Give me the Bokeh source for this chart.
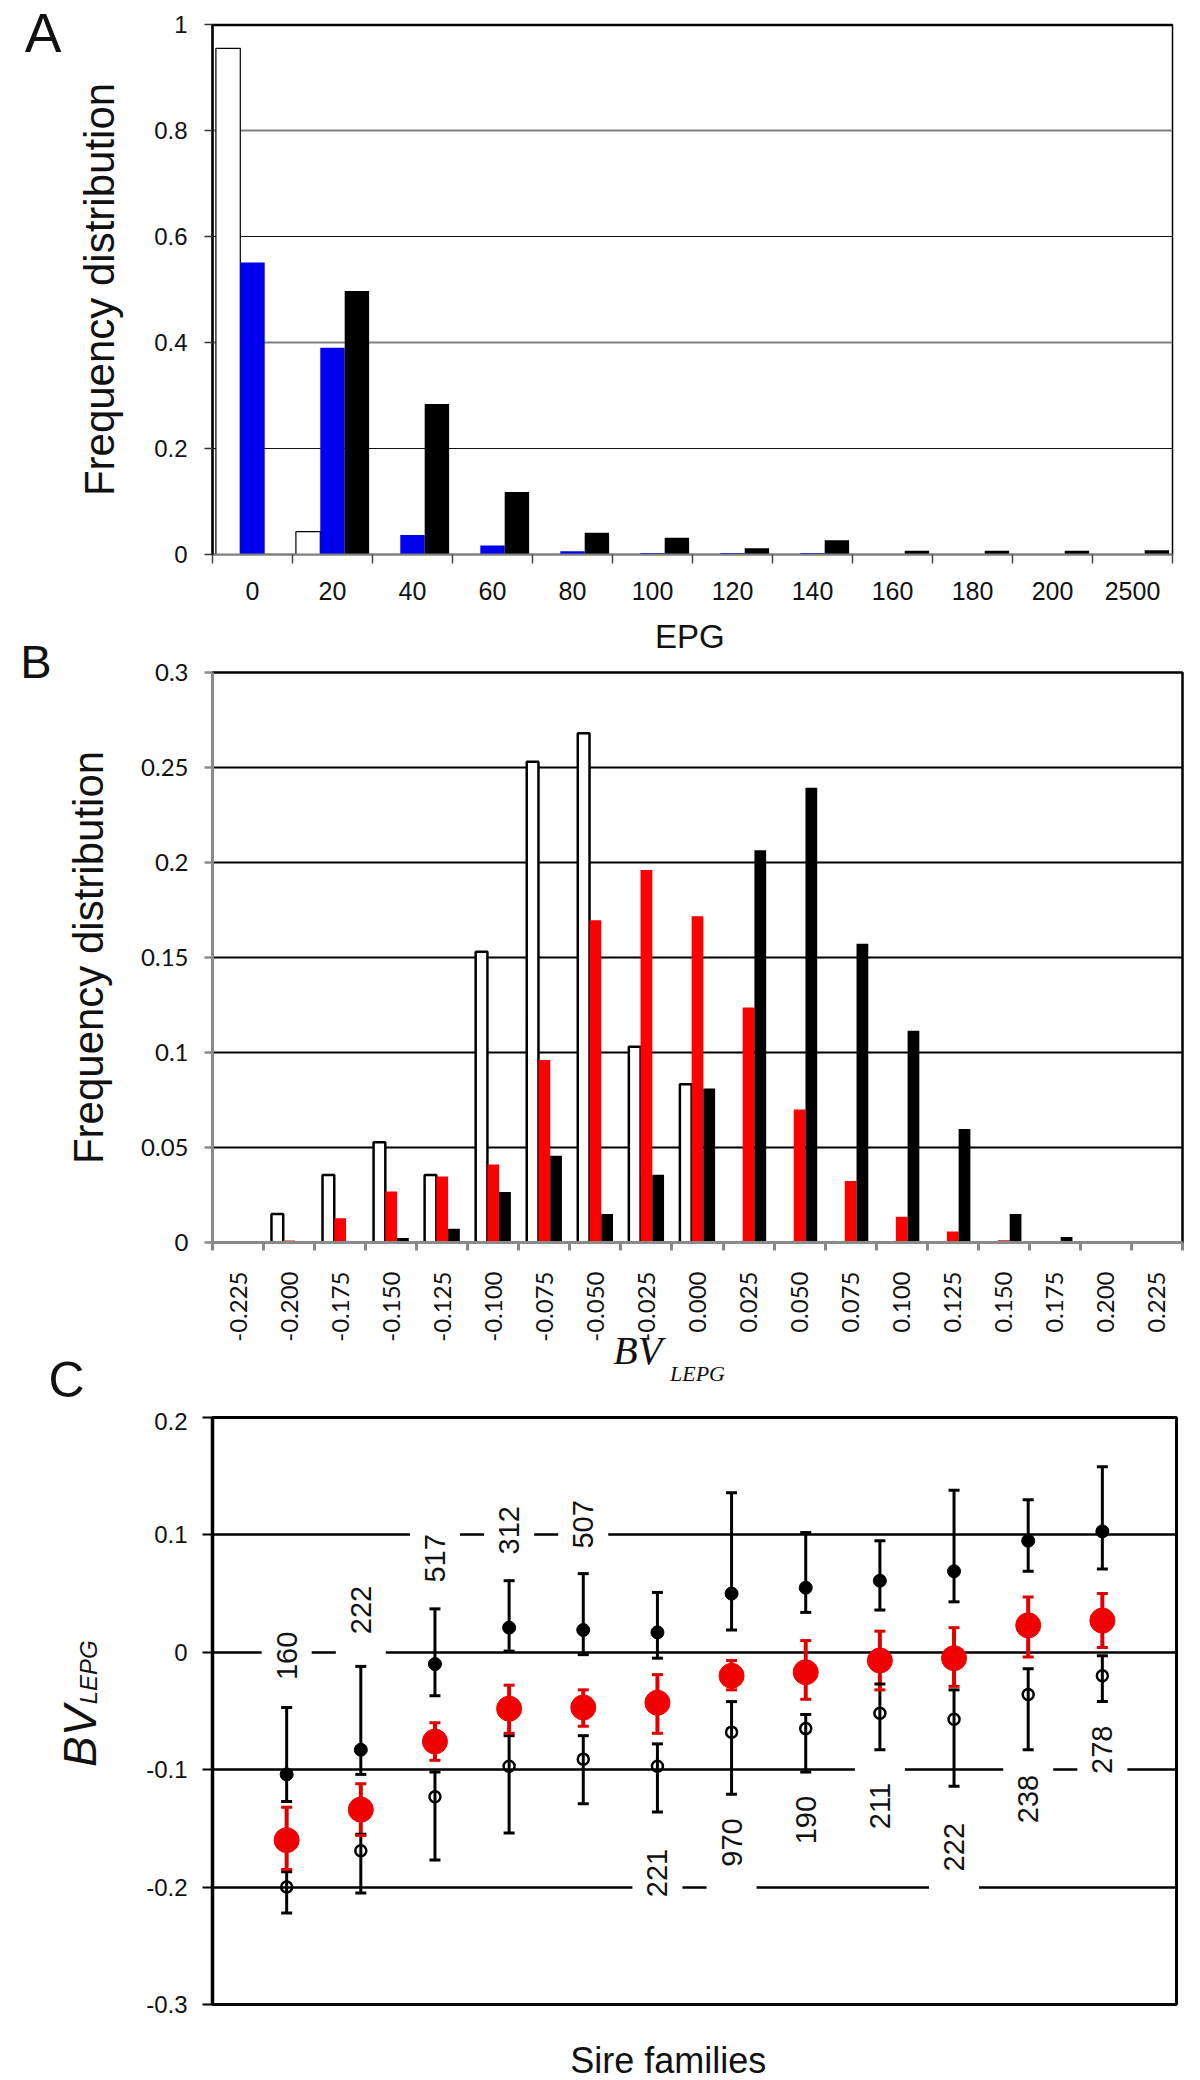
import numpy as np
from math import pi
from bokeh.plotting import figure
from bokeh.models import (Range1d, FixedTicker, Label, Span, ColumnDataSource,
                          NumeralTickFormatter, LinearAxis, Grid)
from bokeh.layouts import column
from bokeh.transform import dodge
from bokeh.embed import file_html
from bokeh.resources import INLINE

SANS = "Liberation Sans"
SERIF = "Liberation Serif"
CAL = "Lato"

# ---------------- Panel A data ----------------
epg_labels = ["0", "20", "40", "60", "80", "100", "120", "140", "160", "180", "200", "2500"]
a_white = [0.955, 0.043, 0, 0, 0, 0, 0, 0, 0, 0, 0, 0]
a_blue = [0.551, 0.390, 0.037, 0.017, 0.006, 0.003, 0.003, 0.003, 0.001, 0.001, 0.001, 0.001]
a_black = [0.0, 0.497, 0.284, 0.118, 0.041, 0.0315, 0.012, 0.027, 0.007, 0.007, 0.007, 0.008]
a_yticks = [0, 0.2, 0.4, 0.6, 0.8, 1.0]

# ---------------- Panel B data ----------------
bv_labels = ["-0.225", "-0.200", "-0.175", "-0.150", "-0.125", "-0.100", "-0.075", "-0.050",
             "-0.025", "0.000", "0.025", "0.050", "0.075", "0.100", "0.125", "0.150",
             "0.175", "0.200", "0.225"]
b_white = [0, 0.015, 0.0355, 0.0527, 0.0355, 0.153, 0.253, 0.268, 0.103, 0.0833,
           0, 0, 0, 0, 0, 0, 0, 0, 0]
b_red = [0, 0.001, 0.0128, 0.0268, 0.0348, 0.041, 0.096, 0.1696, 0.196, 0.1717,
         0.1237, 0.070, 0.0324, 0.0135, 0.0058, 0.0012, 0, 0, 0]
b_black = [0, 0, 0, 0.0024, 0.0072, 0.0266, 0.0457, 0.015, 0.0357, 0.081,
           0.2065, 0.2394, 0.1572, 0.1114, 0.0597, 0.015, 0.0029, 0, 0]
b_yticks = [0, 0.05, 0.1, 0.15, 0.2, 0.25, 0.3]

# ---------------- Panel C data ----------------
families = [1, 2, 3, 4, 5, 6, 7, 8, 9, 10, 11, 12]
c_fill = [-0.104, -0.083, -0.010, 0.021, 0.019, 0.017, 0.050, 0.055, 0.061, 0.069, 0.095, 0.103]
c_fill_hi = [-0.047, -0.012, 0.037, 0.061, 0.067, 0.051, 0.136, 0.102, 0.095, 0.138, 0.130, 0.158]
c_fill_lo = [-0.127, -0.104, -0.037, 0.001, -0.002, -0.005, 0.019, 0.034, 0.036, 0.043, 0.069, 0.071]
c_red = [-0.160, -0.134, -0.076, -0.048, -0.047, -0.043, -0.020, -0.017, -0.007, -0.005, 0.023, 0.027]
c_red_hi = [-0.132, -0.112, -0.060, -0.028, -0.032, -0.019, -0.007, 0.010, 0.018, 0.021, 0.047, 0.050]
c_red_lo = [-0.185, -0.156, -0.092, -0.069, -0.063, -0.069, -0.032, -0.040, -0.032, -0.029, -0.004, 0.004]
c_open = [-0.200, -0.169, -0.123, -0.097, -0.091, -0.097, -0.068, -0.065, -0.052, -0.057, -0.036, -0.020]
c_open_hi = [-0.187, -0.155, -0.102, -0.071, -0.071, -0.078, -0.042, -0.053, -0.027, -0.032, -0.014, -0.003]
c_open_lo = [-0.222, -0.205, -0.177, -0.154, -0.129, -0.136, -0.121, -0.102, -0.083, -0.114, -0.083, -0.042]
c_counts = ["160", "222", "517", "312", "507", "221", "970", "190", "211", "222", "238", "278"]
c_count_y = [-0.003, 0.036, 0.080, 0.104, 0.109, -0.188, -0.162, -0.143, -0.131, -0.166, -0.125, -0.083]
c_yticks = [-0.3, -0.2, -0.1, 0, 0.1, 0.2]


def make_fig(fw, fh, bl, br, bt, bb, xr, yr):
    p = figure(frame_width=fw, frame_height=fh, min_border_left=bl, min_border_right=br,
               min_border_top=bt, min_border_bottom=bb, x_range=xr, y_range=yr,
               output_backend="svg", toolbar_location=None, tools="")
    p.background_fill_color = "white"
    p.border_fill_color = "white"
    return p


def text_axis(p, side, ticks, labels, font, size, standoff, style="normal",
              orientation=None, line_height=None, axis_label=None, label_font=None,
              label_size=None, label_standoff=None):
    """An axis used only to place texts (no line, no ticks) in a side panel."""
    ax = LinearAxis(ticker=FixedTicker(ticks=ticks),
                    major_label_overrides=dict(zip(ticks, labels)))
    ax.axis_line_color = None
    ax.major_tick_line_color = None
    ax.minor_tick_line_color = None
    ax.major_tick_out = 0
    ax.major_tick_in = 0
    ax.minor_tick_out = 0
    ax.minor_tick_in = 0
    ax.major_label_text_font = font
    ax.major_label_text_font_size = size
    ax.major_label_text_font_style = style
    ax.major_label_text_color = "#111"
    ax.major_label_standoff = standoff
    if orientation is not None:
        ax.major_label_orientation = orientation
    if line_height is not None:
        ax.major_label_text_line_height = line_height
    if axis_label is not None:
        ax.axis_label = axis_label
        ax.axis_label_text_font = label_font
        ax.axis_label_text_font_size = label_size
        ax.axis_label_text_font_style = style
        ax.axis_label_text_color = "#111"
        ax.axis_label_standoff = label_standoff
    p.add_layout(ax, side)
    return ax


# =============== Panel A ===============
nA = len(epg_labels)
centersA = [i + 0.5 for i in range(nA)]
srcA = ColumnDataSource(dict(x=centersA, white=a_white, blue=a_blue, black=a_black))
pA = make_fig(960, 530, 212, 20, 24, 55, Range1d(0, nA), Range1d(0, 1))
pA.ygrid.ticker = FixedTicker(ticks=[0.4, 0.8])
pA.ygrid.grid_line_color = "#808080"
pA.ygrid.grid_line_width = 2
pA.add_layout(Grid(dimension=1, ticker=FixedTicker(ticks=[0.2, 0.6]),
                   grid_line_color="#111", grid_line_width=1.2))
pA.xgrid.visible = False
pA.outline_line_color = "black"
pA.outline_line_width = 1.5
bw = 0.305
pA.vbar(x=dodge("x", -bw, range=pA.x_range), top="white", bottom=0, width=bw, source=srcA,
        fill_color="white", line_color="black", line_width=1.2)
pA.vbar(x=dodge("x", 0, range=pA.x_range), top="blue", bottom=0, width=bw, source=srcA,
        fill_color="#0000ee", line_color=None)
pA.vbar(x=dodge("x", bw, range=pA.x_range), top="black", bottom=0, width=bw, source=srcA,
        fill_color="black", line_color=None)
pA.add_layout(Span(location=1, dimension="width", line_color="black", line_width=3.5))

xa = pA.xaxis[0]
xa.ticker = FixedTicker(ticks=centersA, minor_ticks=list(range(nA + 1)))
xa.major_label_overrides = {c: l for c, l in zip(centersA, epg_labels)}
xa.major_tick_line_color = None
xa.major_tick_out = 0
xa.major_tick_in = 0
xa.minor_tick_line_color = "#444"
xa.minor_tick_line_width = 1.5
xa.minor_tick_out = 9
xa.minor_tick_in = 0
xa.axis_line_color = "#808080"
xa.axis_line_width = 2
xa.major_label_text_font = SANS
xa.major_label_text_font_size = "25px"
xa.major_label_text_color = "#111"
xa.major_label_standoff = 18

ya = pA.yaxis[0]
ya.ticker = FixedTicker(ticks=a_yticks)
ya.formatter = NumeralTickFormatter(format="0.[0]")
ya.axis_line_color = "black"
ya.axis_line_width = 2.5
ya.major_tick_out = 8
ya.major_tick_in = 0
ya.major_tick_line_color = "#333"
ya.major_tick_line_width = 1.5
ya.minor_tick_line_color = None
ya.major_label_text_font = SANS
ya.major_label_text_font_size = "24px"
ya.major_label_text_color = "#111"
ya.major_label_standoff = 17
ya.axis_label = "Frequency distribution"
ya.axis_label_text_font = SANS
ya.axis_label_text_font_size = "42px"
ya.axis_label_text_font_style = "normal"
ya.axis_label_text_color = "#111"
ya.axis_label_standoff = 28

# panel letter A
text_axis(pA, "left", [0.984], ["A"], SANS, "55px", 12)

# =============== Panel B ===============
nB = len(bv_labels)
centersB = [i + 0.5 for i in range(nB)]
srcB = ColumnDataSource(dict(x=centersB, white=b_white, red=b_red, black=b_black))
pB = make_fig(970, 570, 210, 12, 63, 170, Range1d(0, nB), Range1d(0, 0.3))
pB.ygrid.ticker = FixedTicker(ticks=b_yticks[1:-1])
pB.ygrid.grid_line_color = "black"
pB.ygrid.grid_line_width = 2
pB.xgrid.visible = False
pB.outline_line_color = "black"
pB.outline_line_width = 2.5
bwB = 0.23
pB.vbar(x=dodge("x", -bwB, range=pB.x_range), top="white", bottom=0, width=bwB, source=srcB,
        fill_color="white", line_color="black", line_width=2.5)
pB.vbar(x=dodge("x", 0, range=pB.x_range), top="red", bottom=0, width=bwB, source=srcB,
        fill_color="#ff0000", line_color=None)
pB.vbar(x=dodge("x", bwB, range=pB.x_range), top="black", bottom=0, width=bwB, source=srcB,
        fill_color="black", line_color=None)

xb = pB.xaxis[0]
xb.ticker = FixedTicker(ticks=centersB, minor_ticks=list(range(nB + 1)))
xb.major_label_overrides = {c: l for c, l in zip(centersB, bv_labels)}
xb.major_label_orientation = pi / 2
xb.major_tick_line_color = None
xb.major_tick_out = 0
xb.major_tick_in = 0
xb.minor_tick_line_color = "#888"
xb.minor_tick_line_width = 3
xb.minor_tick_out = 8
xb.minor_tick_in = 0
xb.axis_line_color = "#8a8a8a"
xb.axis_line_width = 3
xb.major_label_text_font = CAL
xb.major_label_text_font_size = "24px"
xb.major_label_text_color = "#111"
xb.major_label_standoff = 21

yb = pB.yaxis[0]
yb.ticker = FixedTicker(ticks=b_yticks)
yb.formatter = NumeralTickFormatter(format="0.[00]")
yb.axis_line_color = "#8a8a8a"
yb.axis_line_width = 3
yb.major_tick_out = 8
yb.major_tick_in = 0
yb.major_tick_line_color = "#8a8a8a"
yb.major_tick_line_width = 2.5
yb.minor_tick_line_color = None
yb.major_label_text_font = CAL
yb.major_label_text_font_size = "24px"
yb.major_label_text_color = "#111"
yb.major_label_standoff = 16
yb.axis_label = "Frequency distribution"
yb.axis_label_text_font = SANS
yb.axis_label_text_font_size = "42px"
yb.axis_label_text_font_style = "normal"
yb.axis_label_text_color = "#111"
yb.axis_label_standoff = 26

# x title of panel A (sits just above panel B)
text_axis(pB, "above", [9.35], ["EPG"], SANS, "33px", 18)
# letter C (below panel B's frame, left) and letter B
blank = "\u00a0\n" * 5
text_axis(pB, "left", [0.0], [blank + "C"], SANS, "50px", -22, line_height=0.98)
text_axis(pB, "left", [0.3], ["B\n\u00a0"], SANS, "47px", -6, line_height=0.42)
# x title of panel B: BV with subscript LEPG
text_axis(pB, "below", [8.33], ["BV"], SERIF, "40px", -17, style="italic",
          axis_label="LEPG", label_font=SERIF, label_size="22px", label_standoff=-15)

# =============== Panel C ===============
srcC = ColumnDataSource(dict(x=families, f=c_fill, fhi=c_fill_hi, flo=c_fill_lo,
                             r=c_red, rhi=c_red_hi, rlo=c_red_lo,
                             o=c_open, ohi=c_open_hi, olo=c_open_lo))
pC = make_fig(964, 587, 212, 16, 5, 75, Range1d(0, len(families) + 1), Range1d(-0.3, 0.2))
pC.ygrid.ticker = FixedTicker(ticks=c_yticks[1:-1])
pC.ygrid.grid_line_color = "black"
pC.ygrid.grid_line_width = 2.5
pC.xgrid.visible = False
pC.outline_line_color = "black"
pC.outline_line_width = 3

for fam, lab, yv in zip(families, c_counts, c_count_y):
    pC.add_layout(Label(x=fam, y=yv, text=lab, angle=pi / 2, text_font=SANS,
                        text_font_size="29px", text_align="center", text_baseline="middle",
                        text_color="#111", background_fill_color="white",
                        padding=(24, 15), level="underlay"))

# error bars
pC.segment(x0="x", y0="flo", x1="x", y1="fhi", source=srcC, line_color="black", line_width=3)
pC.segment(x0="x", y0="olo", x1="x", y1="ohi", source=srcC, line_color="black", line_width=3)
pC.segment(x0="x", y0="rlo", x1="x", y1="rhi", source=srcC, line_color="#e00000", line_width=4)
for col, colr in (("fhi", "black"), ("flo", "black"), ("ohi", "black"), ("olo", "black"),
                  ("rhi", "#e00000"), ("rlo", "#e00000")):
    pC.scatter(x="x", y=col, source=srcC, marker="dash", size=11, line_color=colr, line_width=3)
# points
pC.scatter(x="x", y="f", source=srcC, marker="circle", size=13, fill_color="black",
           line_color="black")
pC.scatter(x="x", y="o", source=srcC, marker="circle", size=11, fill_alpha=0,
           line_color="black", line_width=2.5)
pC.scatter(x="x", y="r", source=srcC, marker="circle", size=25, fill_color="#f00000",
           line_color="#f00000")

xc = pC.xaxis[0]
xc.ticker = FixedTicker(ticks=[6.147])
xc.major_label_overrides = {6.147: "Sire families"}
xc.major_tick_line_color = None
xc.major_tick_out = 0
xc.major_tick_in = 0
xc.minor_tick_line_color = None
xc.axis_line_color = "black"
xc.axis_line_width = 3
xc.major_label_text_font = SANS
xc.major_label_text_font_size = "36px"
xc.major_label_text_color = "#111"
xc.major_label_standoff = 35

yc = pC.yaxis[0]
yc.ticker = FixedTicker(ticks=c_yticks)
yc.formatter = NumeralTickFormatter(format="0.[0]")
yc.axis_line_color = "black"
yc.axis_line_width = 3.5
yc.major_tick_out = 10
yc.major_tick_in = 0
yc.major_tick_line_color = "black"
yc.major_tick_line_width = 2
yc.minor_tick_line_color = None
yc.major_label_text_font = SANS
yc.major_label_text_font_size = "24px"
yc.major_label_text_color = "#111"
yc.major_label_standoff = 15

# y title of C: BV with subscript LEPG (rotated)
text_axis(pC, "left", [-0.017], ["LEPG"], SANS, "24px", 41, style="italic",
          orientation="parallel")
text_axis(pC, "left", [-0.0716], ["BV"], SANS, "46px", -34, style="italic",
          orientation="parallel")

layout = column(pA, pB, pC, spacing=0)
open("out.html", "w").write(file_html(layout, INLINE))
